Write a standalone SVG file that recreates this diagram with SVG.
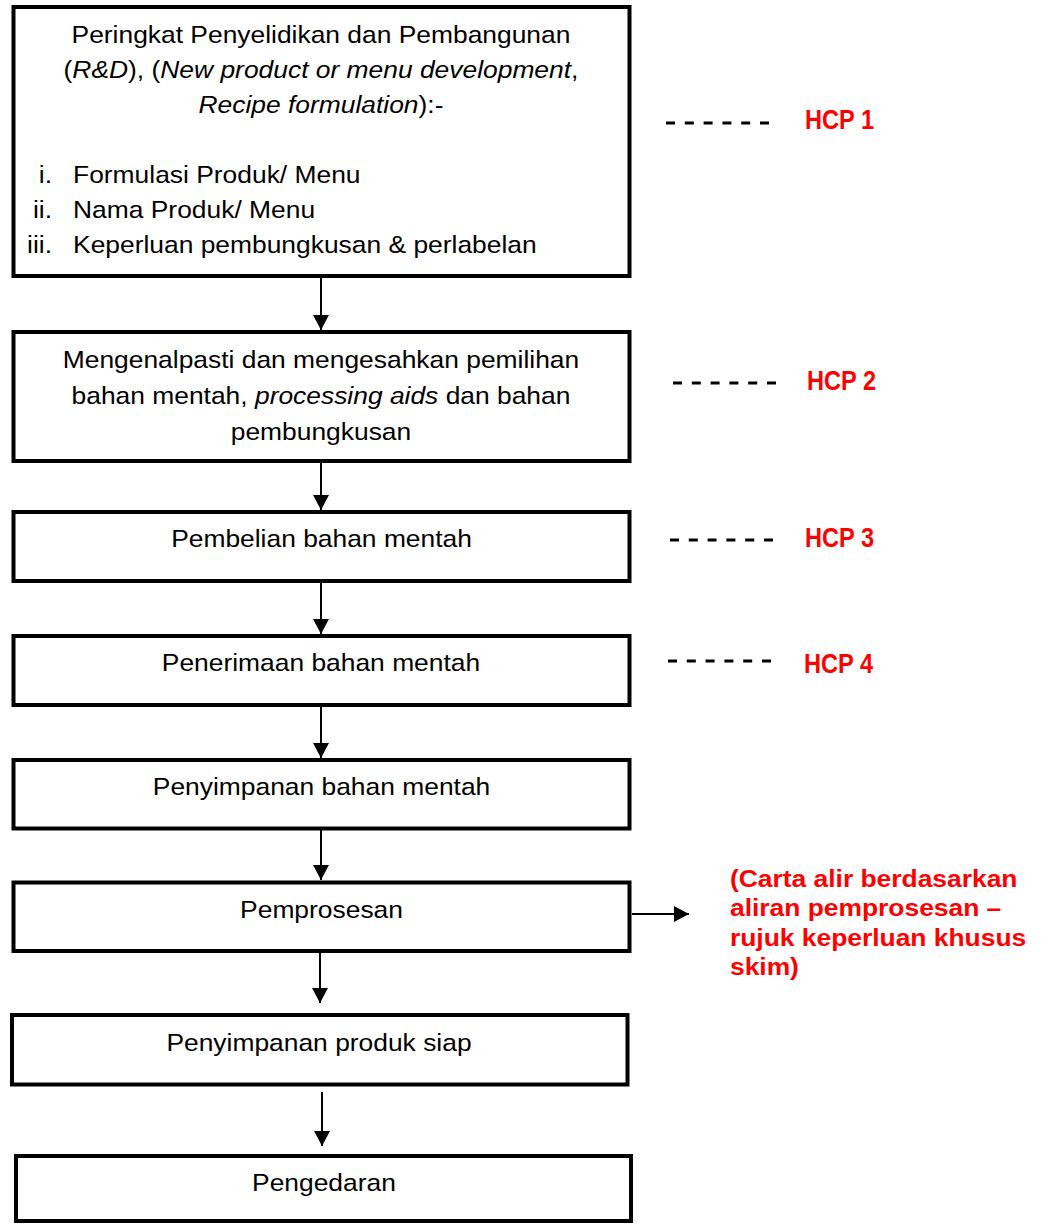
<svg xmlns="http://www.w3.org/2000/svg" width="1043" height="1224" viewBox="0 0 1043 1224">
  <style>
    .box { fill: #ffffff; stroke: #000000; stroke-width: 4; }
    .conn { stroke: #000000; stroke-width: 2; fill: none; }
    .dash { stroke: #000000; stroke-width: 3; stroke-dasharray: 9 9.8; fill: none; }
    .t { font-family: "Liberation Sans", Arial, sans-serif; font-size: 24px; fill: #000000; }
    .c { text-anchor: middle; }
    .r { text-anchor: end; }
    .it { font-style: italic; }
    .hcp { font-family: "Liberation Sans", Arial, sans-serif; font-size: 27px; font-weight: bold; fill: #ff0000; }
    .note { font-family: "Liberation Sans", Arial, sans-serif; font-size: 24px; font-weight: bold; fill: #ff0000; }
  </style>
  <defs>
    <marker id="ah" markerUnits="userSpaceOnUse" markerWidth="17" markerHeight="17" refX="15" refY="8" orient="auto">
      <path d="M0,0 L15,8 L0,16 z" fill="#000000"/>
    </marker>
  </defs>
  <rect width="1043" height="1224" fill="#ffffff"/>

  <g id="connectors">
    <line class="conn" x1="321" y1="278" x2="321" y2="330" marker-end="url(#ah)"/>
    <line class="conn" x1="321" y1="463" x2="321" y2="510" marker-end="url(#ah)"/>
    <line class="conn" x1="321" y1="583" x2="321" y2="634" marker-end="url(#ah)"/>
    <line class="conn" x1="321" y1="707" x2="321" y2="758" marker-end="url(#ah)"/>
    <line class="conn" x1="321" y1="830" x2="321" y2="880" marker-end="url(#ah)"/>
    <line class="conn" x1="320" y1="953" x2="320" y2="1003" marker-end="url(#ah)"/>
    <line class="conn" x1="322" y1="1092" x2="322" y2="1146" marker-end="url(#ah)"/>
    <line class="conn" x1="632" y1="914" x2="689" y2="914" marker-end="url(#ah)"/>
  </g>

  <g id="node-rnd">
    <rect class="box" x="13.5" y="7" width="616" height="269"/>
    <g transform="scale(1.1 1)">
      <text class="t c" x="291.8" y="43">Peringkat Penyelidikan dan Pembangunan</text>
      <text class="t c" x="291.8" y="78">(<tspan class="it">R&amp;D</tspan>), (<tspan class="it">New product or menu development</tspan>,</text>
      <text class="t c" x="291.8" y="113"><tspan class="it">Recipe formulation</tspan>):-</text>
      <text class="t r" x="47.3" y="183">i.</text>
      <text class="t" x="66.4" y="183">Formulasi Produk/ Menu</text>
      <text class="t r" x="47.3" y="218">ii.</text>
      <text class="t" x="66.4" y="218">Nama Produk/ Menu</text>
      <text class="t r" x="47.3" y="253">iii.</text>
      <text class="t" x="66.4" y="253">Keperluan pembungkusan &amp; perlabelan</text>
    </g>
  </g>

  <g id="node-bahan">
    <rect class="box" x="13.5" y="332" width="616" height="129"/>
    <g transform="scale(1.1 1)">
      <text class="t c" x="291.8" y="368">Mengenalpasti dan mengesahkan pemilihan</text>
      <text class="t c" x="291.8" y="404">bahan mentah, <tspan class="it">processing aids</tspan> dan bahan</text>
      <text class="t c" x="291.8" y="440">pembungkusan</text>
    </g>
  </g>

  <g id="node-pembelian">
    <rect class="box" x="13.5" y="512" width="616" height="69"/>
    <text class="t c" transform="scale(1.1 1)" x="292.3" y="547">Pembelian bahan mentah</text>
  </g>

  <g id="node-penerimaan">
    <rect class="box" x="13.5" y="636" width="616" height="69"/>
    <text class="t c" transform="scale(1.1 1)" x="291.8" y="671">Penerimaan bahan mentah</text>
  </g>

  <g id="node-penyimpanan-bahan">
    <rect class="box" x="13.5" y="760" width="616" height="68.5"/>
    <text class="t c" transform="scale(1.1 1)" x="292.3" y="795">Penyimpanan bahan mentah</text>
  </g>

  <g id="node-pemprosesan">
    <rect class="box" x="13.5" y="882.5" width="616" height="68.5"/>
    <text class="t c" transform="scale(1.1 1)" x="292.3" y="918">Pemprosesan</text>
  </g>

  <g id="node-penyimpanan-produk">
    <rect class="box" x="12" y="1015" width="615.5" height="69.5"/>
    <text class="t c" transform="scale(1.1 1)" x="290" y="1051">Penyimpanan produk siap</text>
  </g>

  <g id="node-pengedaran">
    <rect class="box" x="16" y="1156" width="615" height="65"/>
    <text class="t c" transform="scale(1.1 1)" x="294.5" y="1191">Pengedaran</text>
  </g>

  <g id="hcp-labels">
    <line class="dash" x1="666" y1="123" x2="770" y2="123"/>
    <text class="hcp" x="805" y="129" textLength="69" lengthAdjust="spacingAndGlyphs">HCP 1</text>
    <line class="dash" x1="673" y1="383" x2="777" y2="383"/>
    <text class="hcp" x="807" y="390" textLength="69" lengthAdjust="spacingAndGlyphs">HCP 2</text>
    <line class="dash" x1="670" y1="540" x2="774" y2="540"/>
    <text class="hcp" x="805" y="547" textLength="69" lengthAdjust="spacingAndGlyphs">HCP 3</text>
    <line class="dash" x1="668" y1="661" x2="772" y2="661"/>
    <text class="hcp" x="804" y="673" textLength="69" lengthAdjust="spacingAndGlyphs">HCP 4</text>
  </g>

  <g id="note">
    <g transform="scale(1.1 1)">
      <text class="note" x="663.6" y="887">(Carta alir berdasarkan</text>
      <text class="note" x="663.6" y="916.5">aliran pemprosesan –</text>
      <text class="note" x="663.6" y="946">rujuk keperluan khusus</text>
      <text class="note" x="663.6" y="975.5">skim)</text>
    </g>
  </g>
</svg>
